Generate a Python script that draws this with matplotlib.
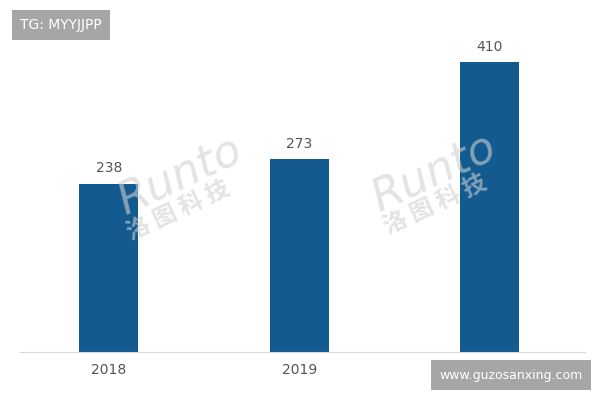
import matplotlib
matplotlib.use('Agg')
import matplotlib.pyplot as plt

# dados
years = ['2018', '2019', '2020']
values = [238, 273, 410]

plt.rcParams['font.family'] = ['DejaVu Sans', 'Noto Sans CJK SC']

fig = plt.figure(figsize=(6, 4), dpi=100)
ax = fig.add_axes([20 / 600, 48 / 400, 565 / 600, 342 / 400])

x = range(len(years))
ax.bar(x, values, width=0.31, color='#125a8f', zorder=2)

for i, v in enumerate(values):
    ax.annotate(str(v), (i, v), xytext=(0, 6), textcoords='offset points',
                ha='center', va='bottom', fontsize=10, color='#555555')

ax.set_xlim(-0.467, 2.499)
ax.set_ylim(0, 484)
ax.set_xticks(list(x))
ax.set_xticklabels(years, fontsize=10, color='#555555')
ax.tick_params(axis='x', length=0, pad=8)
ax.set_yticks([])
for s in ['top', 'left', 'right']:
    ax.spines[s].set_visible(False)
ax.spines['bottom'].set_color('#d9d9d9')

# marcas d'agua "Runto"
for (rx, ry, cx, cy) in [(180, 175, 178, 210), (434, 172, 435, 204)]:
    fig.text(rx / 600, 1 - ry / 400, 'Runto', fontsize=32, color='#d0d0d0', alpha=0.6,
             rotation=25, ha='center', va='center', style='italic', zorder=5)
    fig.text(cx / 600, 1 - cy / 400, '洛 图 科 技', fontsize=17, color='#d0d0d0',
             alpha=0.6, rotation=25, ha='center', va='center',
             family=['Noto Sans CJK SC', 'DejaVu Sans'], zorder=5, weight='bold')

# caixas de texto
fig.text(20 / 600, 1 - 25 / 400, 'TG: MYYJJPP', fontsize=10, color='white',
         ha='left', va='center',
         bbox=dict(boxstyle='square,pad=0.6', fc='#a6a6a6', ec='none'))
fig.text(511 / 600, 1 - 375 / 400, 'www.guzosanxing.com', fontsize=9, color='white',
         ha='center', va='center', zorder=10,
         bbox=dict(boxstyle='square,pad=0.65', fc='#a6a6a6', ec='none'))

fig.savefig('out.png', dpi=100)
